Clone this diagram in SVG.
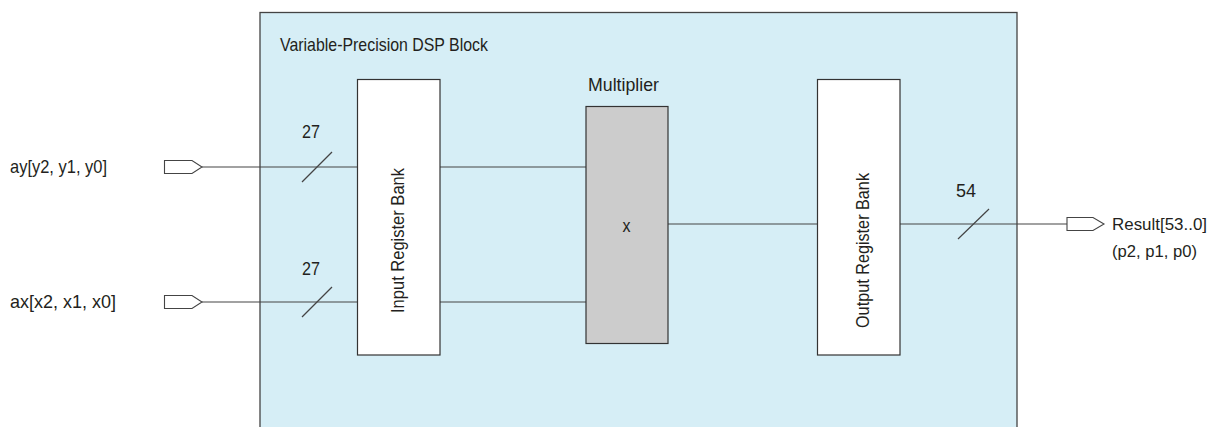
<svg xmlns="http://www.w3.org/2000/svg" width="1215" height="427" viewBox="0 0 1215 427">
<style>
text{font-family:"Liberation Sans",Arial,sans-serif;font-size:19px;fill:#231f20}
.box{fill:#fff;stroke:#333;stroke-width:1.2}
.wire{stroke:#444;stroke-width:1.2;fill:none}
.pin{fill:#fff;stroke:#444;stroke-width:1.1}
.res{font-size:16.5px}
</style>
<rect width="1215" height="427" fill="#fff"/>
<g id="dsp-block">
<rect x="260" y="12.5" width="757" height="430" fill="#d6eef6" stroke="#444" stroke-width="1.3"/>
<text x="280" y="51" textLength="208" lengthAdjust="spacingAndGlyphs">Variable-Precision DSP Block</text>
</g>
<g id="connectors">
<polyline class="wire" points="202,167 357,167"/>
<polyline class="wire" points="202,302 357,302"/>
<polyline class="wire" points="440,167 586,167"/>
<polyline class="wire" points="440,302 586,302"/>
<polyline class="wire" points="668,224 817,224"/>
<polyline class="wire" points="900,224 1067,224"/>
<line class="wire" x1="302" y1="182" x2="332" y2="152"/>
<line class="wire" x1="302" y1="317" x2="332" y2="287"/>
<line class="wire" x1="958" y1="239" x2="989" y2="209"/>
<text x="311" y="138" text-anchor="middle" textLength="18" lengthAdjust="spacingAndGlyphs">27</text>
<text x="311" y="275" text-anchor="middle" textLength="18" lengthAdjust="spacingAndGlyphs">27</text>
<text x="966" y="197" text-anchor="middle" textLength="20" lengthAdjust="spacingAndGlyphs">54</text>
</g>
<g id="pin-ay">
<polygon class="pin" points="164.5,160.5 192,160.5 202,167 192,173.5 164.5,173.5"/>
<text x="10" y="173" textLength="97" lengthAdjust="spacingAndGlyphs">ay[y2, y1, y0]</text>
</g>
<g id="pin-ax">
<polygon class="pin" points="164.5,295.5 192,295.5 202,302 192,308.5 164.5,308.5"/>
<text x="10" y="308" textLength="106" lengthAdjust="spacingAndGlyphs">ax[x2, x1, x0]</text>
</g>
<g id="input-register-bank">
<rect class="box" x="357.5" y="79.5" width="82.5" height="275.5"/>
<text transform="translate(404,240.5) rotate(-90)" text-anchor="middle" textLength="145" lengthAdjust="spacingAndGlyphs">Input Register Bank</text>
</g>
<g id="multiplier">
<text x="623.5" y="91" text-anchor="middle" textLength="71" lengthAdjust="spacingAndGlyphs">Multiplier</text>
<rect x="586" y="106.5" width="82" height="237" fill="#cccccc" stroke="#333" stroke-width="1.2"/>
<text x="626.5" y="232" text-anchor="middle" textLength="8" lengthAdjust="spacingAndGlyphs">x</text>
</g>
<g id="output-register-bank">
<rect class="box" x="817.5" y="79.5" width="82.5" height="275.5"/>
<text transform="translate(869,250.5) rotate(-90)" text-anchor="middle" textLength="155" lengthAdjust="spacingAndGlyphs">Output Register Bank</text>
</g>
<g id="pin-result">
<polygon class="pin" points="1067,217.5 1093,217.5 1104,224 1093,230.5 1067,230.5"/>
<text class="res" x="1112" y="230" textLength="95" lengthAdjust="spacingAndGlyphs">Result[53..0]</text>
<text class="res" x="1112" y="257" textLength="85" lengthAdjust="spacingAndGlyphs">(p2, p1, p0)</text>
</g>
</svg>
